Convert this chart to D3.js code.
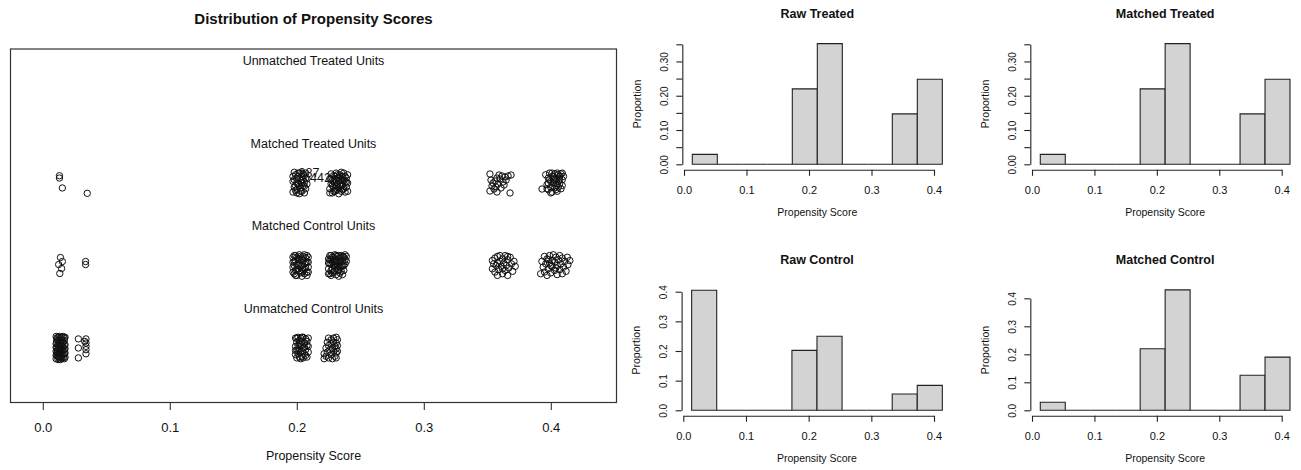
<!DOCTYPE html>
<html>
<head>
<meta charset="utf-8">
<script src="https://cdn.jsdelivr.net/npm/d3@7"></script>
<style>
  body { margin: 0; background: #fff; }
  text { font-family: "Liberation Sans", Arial, sans-serif; fill: #111; }
</style>
</head>
<body>
<script>
//Jittered units: [propensity score, row position]
let treatedMatchedPts = [
  [0.0131,3.088],[0.0131,3.060],[0.0154,2.940],[0.0350,2.875],
  [0.197,3.02],[0.198,2.95],[0.197,2.89],[0.199,3.10],[0.200,2.92],[0.200,3.05],[0.201,2.99],[0.202,2.87],
  [0.202,3.12],[0.203,2.94],[0.203,3.03],[0.204,3.08],[0.204,2.90],[0.205,2.97],[0.205,3.11],[0.206,3.01],
  [0.206,2.88],[0.207,2.93],[0.207,3.06],[0.208,2.99],[0.199,2.97],[0.201,3.08],[0.198,3.13],[0.204,3.00],
  [0.202,2.96],[0.206,3.09],[0.200,2.88],[0.205,3.04],
  [0.197,3.08],[0.198,3.04],[0.199,2.91],[0.200,3.00],[0.201,3.12],[0.203,2.90],[0.204,3.12],[0.206,2.96],
  [0.207,3.12],[0.208,3.05],
  [0.226,3.05],[0.226,2.93],[0.227,3.11],[0.227,2.99],[0.228,2.88],[0.228,3.03],[0.229,2.95],[0.229,3.09],
  [0.230,3.00],[0.230,2.90],[0.231,3.12],[0.231,2.97],[0.232,3.06],[0.232,2.92],[0.233,3.02],[0.233,2.87],
  [0.234,3.10],[0.234,2.96],[0.235,3.04],[0.235,2.90],[0.236,3.08],[0.236,2.98],[0.237,2.93],[0.237,3.12],
  [0.238,3.01],[0.238,2.89],[0.239,3.06],[0.239,2.95],[0.240,3.00],[0.240,2.90],[0.228,2.97],[0.231,3.04],
  [0.233,2.94],[0.235,3.13],[0.237,3.03],[0.230,3.08],[0.234,2.99],[0.236,2.92],[0.229,3.02],[0.232,2.99],
  [0.226,2.88],[0.227,3.05],[0.229,2.90],[0.230,3.04],[0.232,3.10],[0.233,3.07],[0.235,2.97],[0.236,3.03],
  [0.238,3.08],[0.239,3.01],[0.240,3.10],[0.231,2.91],
  [0.3521,3.109],[0.3561,3.024],[0.3616,3.085],[0.3640,3.073],[0.3664,3.085],[0.3537,2.964],[0.3521,2.903],
  [0.3576,2.891],[0.3679,2.879],[0.3584,2.988],[0.3600,3.048],[0.3624,3.012],[0.3568,2.952],[0.3553,2.927],
  [0.3648,3.036],[0.3592,3.097],[0.3608,2.940],[0.3545,3.000],[0.3632,2.976],[0.3687,3.097],[0.3576,3.060],
  [0.3529,3.036],
  [0.3931,2.927],[0.396,3.10],[0.397,2.98],[0.398,3.06],[0.398,2.92],[0.399,3.12],[0.400,3.02],[0.400,2.95],
  [0.401,3.08],[0.401,2.89],[0.402,3.00],[0.403,3.11],[0.403,2.94],[0.404,3.05],[0.404,2.97],[0.405,3.12],
  [0.405,2.90],[0.406,3.02],[0.406,2.95],[0.407,3.08],[0.407,2.99],[0.408,3.11],[0.408,2.93],[0.409,3.04],
  [0.409,3.12],[0.410,3.08],[0.399,3.04],[0.402,3.08],[0.405,2.99],[0.397,2.93],[0.400,2.88],[0.403,3.03],
  [0.406,3.10],[0.398,3.00],[0.401,3.12],[0.404,2.92],[0.407,3.04],[0.409,2.97],[0.402,3.05]
];

let controlMatchedPts = [
  [0.0139,2.097],[0.0154,2.048],[0.0125,2.012],[0.0148,1.964],[0.0134,1.903],[0.0337,2.048],[0.0337,2.012],
  [0.197,2.10],[0.197,1.98],[0.198,1.90],[0.198,2.05],[0.199,2.12],[0.199,1.94],[0.200,2.01],[0.200,1.88],
  [0.201,2.08],[0.201,1.96],[0.202,2.13],[0.202,2.03],[0.203,1.91],[0.203,1.99],[0.204,2.07],[0.204,1.87],
  [0.205,2.11],[0.205,1.95],[0.206,2.02],[0.206,1.90],[0.207,2.09],[0.207,1.97],[0.208,2.04],[0.208,1.92],
  [0.209,2.10],[0.209,1.98],[0.198,2.00],[0.201,2.00],[0.204,2.00],[0.199,1.88],[0.205,2.06],
  [0.197,2.04],[0.197,1.92],[0.198,2.12],[0.199,2.06],[0.200,2.10],[0.200,1.95],[0.202,1.93],[0.202,2.08],
  [0.203,2.11],[0.204,1.93],[0.206,1.96],[0.206,2.13],[0.207,2.03],[0.208,1.88],[0.208,2.12],[0.209,2.04],
  [0.209,1.92],
  [0.225,2.08],[0.225,1.96],[0.226,2.12],[0.226,1.90],[0.227,2.02],[0.227,1.88],[0.228,2.10],[0.228,1.97],
  [0.229,2.05],[0.229,1.92],[0.230,2.13],[0.230,2.00],[0.231,1.89],[0.231,2.07],[0.232,1.95],[0.232,2.11],
  [0.233,2.03],[0.233,1.87],[0.234,2.09],[0.234,1.98],[0.235,2.12],[0.235,1.93],[0.236,2.05],[0.236,1.89],
  [0.237,2.10],[0.237,2.00],[0.238,2.13],[0.238,2.07],[0.239,2.11],[0.226,2.02],[0.228,1.91],[0.230,2.06],
  [0.232,1.99],[0.234,1.91],[0.236,2.00],[0.229,2.00],[0.231,2.12],[0.233,1.95],[0.227,2.07],[0.235,2.06],
  [0.225,2.03],[0.225,1.90],[0.226,2.07],[0.227,1.94],[0.228,2.04],[0.229,2.10],[0.230,1.94],[0.231,2.02],
  [0.232,2.05],[0.233,2.12],[0.234,2.04],[0.235,1.99],[0.236,2.11],[0.237,1.94],[0.238,2.02],[0.239,2.05],
  [0.233,2.00],[0.227,2.12],
  [0.354,2.06],[0.354,1.96],[0.355,2.02],[0.356,1.92],[0.356,2.09],[0.357,2.00],[0.358,1.88],[0.358,2.11],
  [0.359,1.95],[0.360,2.05],[0.360,2.12],[0.361,1.99],[0.362,1.90],[0.362,2.08],[0.363,2.03],[0.364,1.94],
  [0.364,2.12],[0.365,2.00],[0.366,1.88],[0.366,2.07],[0.367,1.97],[0.368,2.10],[0.369,2.02],[0.370,1.93],
  [0.371,2.05],[0.372,1.99],[0.358,2.03],[0.362,1.96],[0.366,2.11],
  [0.392,1.90],[0.393,2.05],[0.394,1.98],[0.395,2.11],[0.395,1.92],[0.396,2.02],[0.397,1.88],[0.397,2.08],
  [0.398,1.96],[0.399,2.12],[0.399,2.03],[0.400,1.91],[0.401,2.06],[0.401,1.99],[0.402,2.13],[0.403,1.94],
  [0.403,2.04],[0.404,2.10],[0.405,1.89],[0.405,2.00],[0.406,2.07],[0.407,1.95],[0.407,2.12],[0.408,2.02],
  [0.409,1.90],[0.409,2.09],[0.410,1.98],[0.411,2.05],[0.412,1.93],[0.413,2.10],[0.4135,2.01],[0.415,2.06],
  [0.400,2.00],[0.404,1.97],[0.398,2.07]
];

let controlUnmatchedPts = [
  [0.0105,1.14],[0.0105,1.05],[0.0105,0.96],[0.0105,0.87],[0.011,1.10],[0.011,1.00],[0.011,0.91],[0.012,1.13],
  [0.012,1.04],[0.012,0.95],[0.012,0.86],[0.013,1.08],[0.013,0.99],[0.013,0.90],[0.014,1.12],[0.014,1.02],
  [0.014,0.93],[0.014,0.86],[0.015,1.06],[0.015,0.97],[0.015,0.88],[0.016,1.14],[0.016,1.01],[0.016,0.92],
  [0.017,1.09],[0.017,0.98],[0.017,0.87],[0.0175,1.04],[0.0175,0.94],[0.0175,1.13],[0.013,1.14],[0.011,1.07],
  [0.016,1.07],[0.012,0.99],[0.015,1.10],[0.014,0.96],[0.0125,0.89],
  [0.0105,1.01],[0.0105,0.91],[0.011,1.12],[0.011,0.94],[0.012,1.09],[0.012,0.90],[0.013,1.03],[0.013,0.94],
  [0.013,0.87],[0.014,1.07],[0.014,0.99],[0.015,1.13],[0.015,1.02],[0.015,0.92],[0.016,0.97],[0.016,0.88],
  [0.017,1.12],[0.017,1.03],[0.017,0.93],[0.0175,0.99],[0.0175,0.89],[0.0115,0.97],[0.0145,0.89],
  [0.028,1.11],[0.028,1.00],[0.028,0.88],[0.034,1.11],[0.034,1.06],[0.034,1.02],[0.034,0.98],[0.034,0.93],
  [0.033,1.08],
  [0.199,1.12],[0.199,1.02],[0.199,0.92],[0.200,1.07],[0.200,0.97],[0.200,0.88],[0.201,1.13],[0.201,1.03],
  [0.201,0.93],[0.202,1.09],[0.202,0.99],[0.202,0.89],[0.203,1.12],[0.203,1.04],[0.203,0.95],[0.204,1.08],
  [0.204,0.90],[0.205,1.00],[0.205,1.13],[0.206,0.93],[0.206,1.06],[0.207,1.11],[0.207,0.98],[0.208,1.03],
  [0.208,0.89],[0.209,1.12],[0.209,0.95],[0.201,0.98],[0.203,0.87],
  [0.199,0.97],[0.200,1.12],[0.202,1.05],[0.204,1.13],[0.204,0.96],[0.206,1.01],[0.207,0.91],[0.208,1.08],
  [0.209,1.02],[0.205,0.88],
  [0.2215,0.93],[0.2215,0.87],[0.223,1.00],[0.223,0.90],[0.224,1.07],[0.224,0.95],[0.225,1.12],[0.225,1.03],
  [0.225,0.88],[0.226,0.98],[0.227,1.10],[0.227,1.05],[0.227,0.92],[0.228,1.00],[0.228,0.87],[0.229,1.12],
  [0.229,1.07],[0.229,0.96],[0.230,1.02],[0.230,0.90],[0.231,1.13],[0.231,1.06],[0.231,0.99],[0.231,0.94],
  [0.231,0.88],[0.232,1.10],[0.232,1.03],[0.232,0.96]
];

//identified units: [id, score, row]
let pointLabels = [['387',0.2096,3.109],['442',0.2187,3.048]];

let rowNames = ['Unmatched Control Units','Matched Control Units','Matched Treated Units','Unmatched Treated Units'];
let rowValues = [1,2,3,4];
let scoreTicks = [0,0.1,0.2,0.3,0.4];

//histogram data
let binEdges = [0.0133,0.0533,0.0933,0.1333,0.1733,0.2133,0.2533,0.2933,0.3333,0.3733,0.4133];
let propRawTreated     = [0.029,0,0,0,0.220,0.352,0,0,0.147,0.248];
let propMatchedTreated = [0.029,0,0,0,0.220,0.352,0,0,0.147,0.248];
let propRawControl     = [0.405,0,0,0,0.202,0.250,0,0,0.055,0.084];
let propMatchedControl = [0.029,0,0,0,0.220,0.430,0,0,0.125,0.190];
let histTitles = ['Raw Treated','Matched Treated','Raw Control','Matched Control'];
let yTicksTreated = [0,0.05,0.10,0.15,0.20,0.25,0.30,0.35];
let yTicksControl = [0,0.1,0.2,0.3,0.4];

let width = 1301, height = 470;

let svg = d3.select('body')
            .append('svg')
            .attr('width', width)
            .attr('height', height)
            .style('background', '#fff')

//---------- left: jitter plot ----------
let box = {left: 10.5, right: 616.5, top: 49, bottom: 402.5};

let xScale = d3.scaleLinear()
              .domain([0, 0.4])
              .range([42.8, 550.8])

let yScale = d3.scaleLinear()
              .domain([1, 4])
              .range([348, 100.5])

svg.append('rect')
  .attr('x', box.left).attr('y', box.top)
  .attr('width', box.right - box.left).attr('height', box.bottom - box.top)
  .attr('fill', 'none').attr('stroke', '#333').attr('stroke-width', 1.2)

svg.append('text')
  .attr('x', (box.left + box.right)/2)
  .attr('y', 20)
  .attr('text-anchor', 'middle')
  .attr('dominant-baseline', 'middle')
  .style('font-size', '15px')
  .style('font-weight', 'bold')
  .text('Distribution of Propensity Scores')

svg.selectAll('.rowlab')
  .data(rowValues)
  .enter().append('text')
  .attr('x', (box.left + box.right)/2)
  .attr('y', d => yScale(d + 0.47))
  .attr('text-anchor', 'middle')
  .attr('dominant-baseline', 'middle')
  .style('font-size', '12.5px')
  .text((d, i) => rowNames[i])

let leftAxis = svg.append('g')
  .attr('transform', `translate(0, ${box.bottom})`)
  .call(d3.axisBottom(xScale).tickValues(scoreTicks).tickFormat(d3.format('.1f')).tickSize(7.5).tickSizeOuter(0))
leftAxis.select('.domain').remove()
leftAxis.selectAll('line').attr('stroke', '#333').attr('stroke-width', 1.1)
leftAxis.selectAll('text')
  .attr('y', 24.5).attr('dy', '0.35em')
  .style('font-size', '13px')
  .style('font-family', '"Liberation Sans", Arial, sans-serif')
  .attr('fill', '#111')

svg.append('text')
  .attr('x', (box.left + box.right)/2)
  .attr('y', 457)
  .attr('text-anchor', 'middle')
  .attr('dominant-baseline', 'middle')
  .style('font-size', '12.5px')
  .text('Propensity Score')

let allPts = treatedMatchedPts.concat(controlMatchedPts, controlUnmatchedPts)
svg.append('g')
  .selectAll('circle')
  .data(allPts)
  .enter().append('circle')
  .attr('cx', d => xScale(d[0]))
  .attr('cy', d => yScale(d[1]))
  .attr('r', 3.2)
  .attr('fill', 'none')
  .attr('stroke', '#111')
  .attr('stroke-width', 1)

svg.selectAll('.idlab')
  .data(pointLabels)
  .enter().append('text')
  .attr('x', d => xScale(d[1]))
  .attr('y', d => yScale(d[2]))
  .attr('text-anchor', 'middle')
  .attr('dominant-baseline', 'middle')
  .style('font-size', '12.5px')
  .text(d => d[0])

//---------- right: four histograms ----------
let panels = [
  {title: histTitles[0], props: propRawTreated,     ticks: yTicksTreated, fmt: '.2f', x0: 684,   x1: 934,    yb: 164.3, yt: 44.3},
  {title: histTitles[1], props: propMatchedTreated, ticks: yTicksTreated, fmt: '.2f', x0: 1032,  x1: 1281.7, yb: 164.3, yt: 44.3},
  {title: histTitles[2], props: propRawControl,     ticks: yTicksControl, fmt: '.1f', x0: 683.3, x1: 934,    yb: 410.3, yt: 291.7},
  {title: histTitles[3], props: propMatchedControl, ticks: yTicksControl, fmt: '.1f', x0: 1032,  x1: 1281.7, yb: 410.3, yt: 298.3}
];

panels.forEach(p => {
  let xs = d3.scaleLinear().domain([0, 0.4]).range([p.x0, p.x1])
  let ys = d3.scaleLinear().domain([0, p.ticks[p.ticks.length - 1]]).range([p.yb, p.yt])
  let g = svg.append('g')

  //bars (zero bins draw as a line on the baseline)
  g.selectAll('path.bar')
    .data(p.props)
    .enter().append('path')
    .attr('class', 'bar')
    .attr('d', (d, i) => `M${xs(binEdges[i])},${ys(0)}V${ys(d)}H${xs(binEdges[i+1])}V${ys(0)}Z`)
    .attr('fill', '#d3d3d3')
    .attr('stroke', '#222')
    .attr('stroke-width', 1.1)

  let fmt = d3.format(p.fmt)
  let yAx = g.append('g')
    .attr('transform', `translate(${xs(-0.0027)}, 0)`)
    .call(d3.axisLeft(ys).tickValues(p.ticks).tickSize(6).tickSizeOuter(0)
      .tickFormat(d => (p.fmt == '.2f' && Math.round(d * 100) % 10 != 0) ? '' : fmt(d)))
  yAx.selectAll('text')
    .attr('x', 0).attr('y', 0).attr('dy', null)
    .attr('transform', 'translate(-17,0) rotate(-90)')
    .attr('text-anchor', 'middle')
    .attr('dominant-baseline', 'middle')
    .style('font-size', '10px')

  let xAx = g.append('g')
    .attr('transform', `translate(0, ${p.yb + 5.5})`)
    .call(d3.axisBottom(xs).tickValues(scoreTicks).tickFormat(d3.format('.1f')).tickSize(6).tickSizeOuter(0))
  xAx.selectAll('text')
    .attr('y', 20.2).attr('dy', '0.35em')
    .style('font-size', '11px')

  g.selectAll('.domain, .tick line').attr('stroke', '#222').attr('stroke-width', 1.1)
  g.selectAll('.tick text')
    .style('font-family', '"Liberation Sans", Arial, sans-serif')
    .attr('fill', '#111')

  g.append('text')
    .attr('x', xs((binEdges[0] + binEdges[binEdges.length - 1]) / 2))
    .attr('y', p.yb - 149.5)
    .attr('text-anchor', 'middle')
    .attr('dominant-baseline', 'middle')
    .style('font-size', '12.5px')
    .style('font-weight', 'bold')
    .text(p.title)

  g.append('text')
    .attr('x', xs((binEdges[0] + binEdges[binEdges.length - 1]) / 2))
    .attr('y', p.yb + 49.3)
    .attr('text-anchor', 'middle')
    .attr('dominant-baseline', 'middle')
    .style('font-size', '10.5px')
    .text('Propensity Score')

  g.append('text')
    .attr('transform', `translate(${p.x0 - 46}, ${ys(d3.max(p.props) / 2)}) rotate(-90)`)
    .attr('text-anchor', 'middle')
    .attr('dominant-baseline', 'middle')
    .style('font-size', '10.5px')
    .text('Proportion')
})
</script>
</body>
</html>
